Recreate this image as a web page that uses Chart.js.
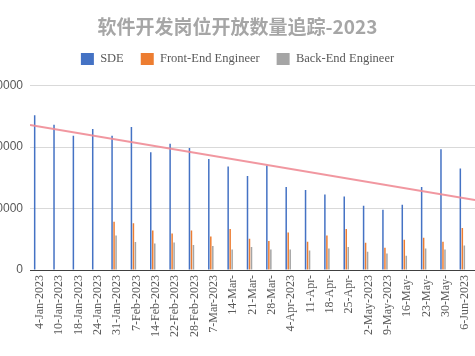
<!DOCTYPE html>
<html>
<head>
<meta charset="utf-8">
<script src="https://cdn.jsdelivr.net/npm/chart.js@4/dist/chart.umd.min.js"></script>
<style>
  html, body { margin: 0; padding: 0; background: #ffffff; overflow: hidden; }
  canvas { display: block; }
</style>
</head>
<body>
<canvas id="c" width="475" height="356"></canvas>
<script>
const categories = ["4-Jan-2023","10-Jan-2023","18-Jan-2023","24-Jan-2023","31-Jan-2023","7-Feb-2023","14-Feb-2023","22-Feb-2023","28-Feb-2023","7-Mar-2023","14-Mar-","21-Mar-","28-Mar-","4-Apr-2023","11-Apr-","18-Apr-","25-Apr-","2-May-2023","9-May-2023","16-May-","23-May-","30-May-","6-Jun-2023"];
const sdeValues = [25150, 23630, 21840, 22910, 21840, 23240, 19140, 20540, 19840, 18050, 16810, 15300, 16980, 13510, 13020, 12270, 11950, 10430, 9780, 10590, 13510, 19620, 16490];
const frontEndValues = [0, 0, 0, 0, 7830, 7620, 6430, 5950, 6430, 5460, 6650, 5080, 4700, 6110, 4590, 5620, 6650, 4430, 3620, 4920, 5240, 4590, 6810];
const backEndValues = [0, 0, 0, 0, 5620, 4540, 4320, 4490, 4050, 3890, 3350, 3730, 3350, 3350, 3190, 3510, 3730, 2970, 2700, 2320, 3510, 3350, 4000];
const trendPositions = [-0.5, 22.5];
const trendValues = [23590, 11360];
const yTicks = [0, 10000, 20000, 30000];

const trendData = trendPositions.map((p, i) => ({ x: p, y: trendValues[i] }));
const serif = "'Liberation Serif', 'DejaVu Serif', serif";
const sans = "'Liberation Sans', Arial, sans-serif";

new Chart(document.getElementById('c'), {
  data: {
    labels: categories,
    datasets: [
      { type: 'bar', label: 'SDE', data: sdeValues, backgroundColor: '#4472c4', order: 1 },
      { type: 'bar', label: 'Front-End Engineer', data: frontEndValues, backgroundColor: '#ed7d31', order: 1 },
      { type: 'bar', label: 'Back-End Engineer', data: backEndValues, backgroundColor: '#a5a5a5', order: 1 },
      { type: 'line', label: 'trend', data: trendData, xAxisID: 'xTrend', borderColor: 'rgba(240,140,150,0.9)', borderWidth: 2, pointRadius: 0, tension: 0, order: 0 }
    ]
  },
  options: {
    responsive: false,
    devicePixelRatio: 1,
    animation: false,
    layout: { padding: { left: 0, right: 0, top: 0, bottom: 0 } },
    datasets: { bar: { categoryPercentage: 0.62, barPercentage: 0.75 } },
    plugins: {
      tooltip: { enabled: false },
      title: {
        display: true,
        text: '软件开发岗位开放数量追踪-2023',
        color: '#a6a6a6',
        font: { family: "'Noto Sans CJK SC', sans-serif", size: 19, weight: 'bold' },
        padding: { top: 15, bottom: -2 }
      },
      subtitle: {
        display: true,
        text: '',
        weight: 500,
        font: { size: 1 },
        padding: { top: 0, bottom: 9 }
      },
      legend: {
        position: 'top',
        labels: {
          filter: (item) => item.text !== 'trend',
          boxWidth: 13,
          boxHeight: 12,
          padding: 17,
          color: '#595959',
          font: { family: serif, size: 12.5 }
        }
      }
    },
    scales: {
      x: {
        type: 'category',
        offset: true,
        grid: { display: false, drawTicks: false },
        border: { display: true, color: '#404040', width: 1 },
        ticks: {
          autoSkip: false,
          maxRotation: 90,
          minRotation: 90,
          padding: 5,
          color: '#595959',
          font: { family: serif, size: 12 }
        },
        afterFit: (s) => { s.height = 86; s.paddingLeft = 0; s.paddingRight = 0; }
      },
      xTrend: {
        type: 'linear',
        display: false,
        min: -0.5,
        max: 22.5
      },
      y: {
        min: 0,
        max: 30000,
        afterBuildTicks: (s) => { s.ticks = yTicks.map(v => ({ value: v })); },
        grid: { color: '#d9d9d9', drawTicks: false },
        border: { display: false },
        ticks: {
          padding: 7,
          color: '#595959',
          font: { family: sans, size: 12 },
          callback: (v) => String(v)
        },
        afterFit: (s) => { s.width = 30; }
      }
    }
  }
});
</script>
</body>
</html>
